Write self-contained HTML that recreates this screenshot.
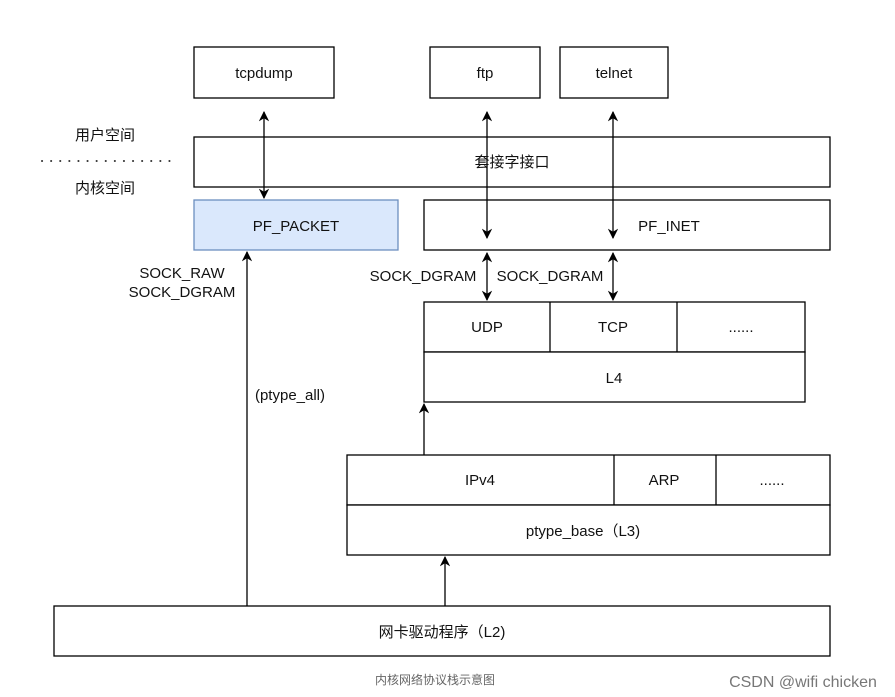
<!DOCTYPE html>
<html><head><meta charset="utf-8"><style>
html,body{margin:0;padding:0;background:#fff;}
svg{display:block;}
text{font-family:"Liberation Sans","Noto Sans CJK SC",sans-serif;font-size:15px;fill:#111;}
</style></head><body>
<svg width="895" height="697" viewBox="0 0 895 697" xmlns="http://www.w3.org/2000/svg">
<defs>
<marker id="a" viewBox="0 0 10 10" refX="9" refY="5" markerWidth="8" markerHeight="8" orient="auto-start-reverse"><path d="M0,0 L10,5 L0,10 L3,5 z" fill="#000"/></marker>
</defs>
<g fill="#fff" stroke="#000" stroke-width="1.3">
<rect x="194" y="47" width="140" height="51"/>
<rect x="430" y="47" width="110" height="51"/>
<rect x="560" y="47" width="108" height="51"/>
<rect x="194" y="137" width="636" height="50"/>
<rect x="424" y="200" width="406" height="50"/>
<rect x="424" y="302" width="381" height="50"/>
<rect x="424" y="352" width="381" height="50"/>
<rect x="347" y="455" width="483" height="50"/>
<rect x="347" y="505" width="483" height="50"/>
<rect x="54" y="606" width="776" height="50"/>
</g>
<rect x="194" y="200" width="204" height="50" fill="#dae8fc" stroke="#6c8ebf" stroke-width="1.3"/>
<g stroke="#000" stroke-width="1.3">
<line x1="550" y1="302" x2="550" y2="352"/>
<line x1="677" y1="302" x2="677" y2="352"/>
<line x1="614" y1="455" x2="614" y2="505"/>
<line x1="716" y1="455" x2="716" y2="505"/>
</g>
<line x1="42" y1="161" x2="178" y2="161" stroke="#333" stroke-width="2" stroke-dasharray="0.1,9" stroke-linecap="round"/>
<g stroke="#000" stroke-width="1.3" fill="none">
<line x1="264" y1="112" x2="264" y2="198" marker-start="url(#a)" marker-end="url(#a)"/>
<line x1="487" y1="112" x2="487" y2="238" marker-start="url(#a)" marker-end="url(#a)"/>
<line x1="613" y1="112" x2="613" y2="238" marker-start="url(#a)" marker-end="url(#a)"/>
<line x1="487" y1="253" x2="487" y2="300" marker-start="url(#a)" marker-end="url(#a)"/>
<line x1="613" y1="253" x2="613" y2="300" marker-start="url(#a)" marker-end="url(#a)"/>
<line x1="247" y1="606" x2="247" y2="252" marker-end="url(#a)"/>
<line x1="424" y1="455" x2="424" y2="404" marker-end="url(#a)"/>
<line x1="445" y1="606" x2="445" y2="557" marker-end="url(#a)"/>
</g>
<g text-anchor="middle">
<text x="264" y="78">tcpdump</text>
<text x="485" y="78">ftp</text>
<text x="614" y="78">telnet</text>
<text x="512" y="167">套接字接口</text>
<text x="296" y="231">PF_PACKET</text>
<text x="669" y="231">PF_INET</text>
<text x="487" y="332">UDP</text>
<text x="613" y="332">TCP</text>
<text x="741" y="332">......</text>
<text x="614" y="383">L4</text>
<text x="480" y="485">IPv4</text>
<text x="664" y="485">ARP</text>
<text x="772" y="485">......</text>
<text x="583" y="536">ptype_base（L3)</text>
<text x="442" y="637">网卡驱动程序（L2)</text>
<text x="105" y="140">用户空间</text>
<text x="105" y="193">内核空间</text>
<text x="182" y="278">SOCK_RAW</text>
<text x="182" y="297">SOCK_DGRAM</text>
<text x="290" y="400">(ptype_all)</text>
<text x="423" y="281">SOCK_DGRAM</text>
<text x="550" y="281">SOCK_DGRAM</text>
<text x="435" y="684" style="font-size:12px;fill:#666">内核网络协议栈示意图</text>
<text x="803" y="687" style="font-size:16px;fill:#777">CSDN @wifi chicken</text>
</g>
</svg>
</body></html>
